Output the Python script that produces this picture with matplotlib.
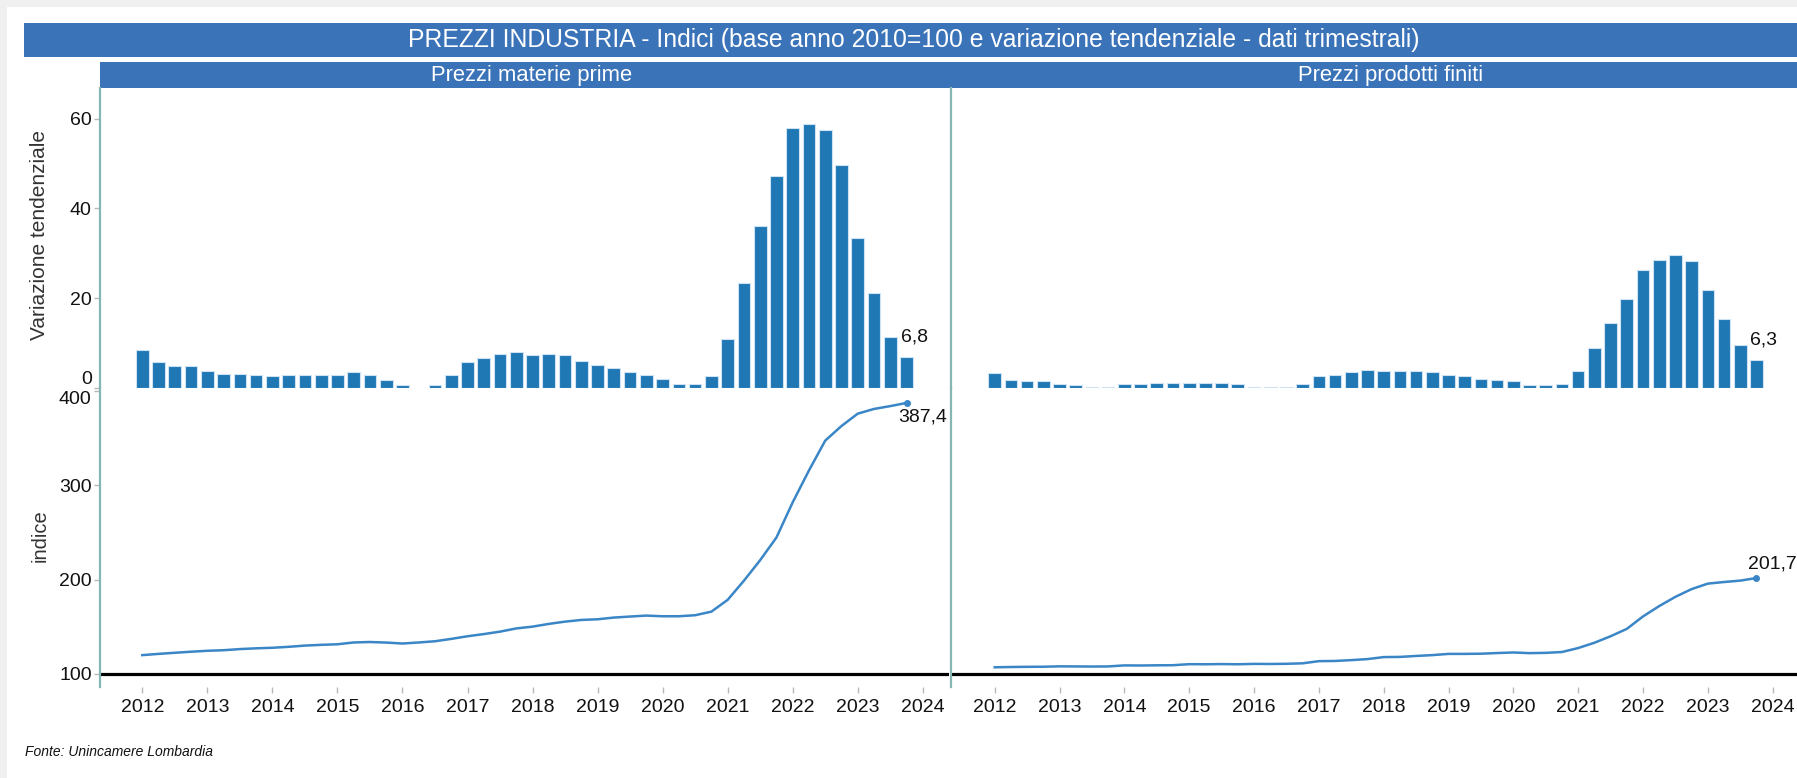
import matplotlib
matplotlib.use('Agg')
import matplotlib.pyplot as plt
from matplotlib.patches import Rectangle

# Se fija la fuente (métrica tipo Arial).
plt.rcParams['font.family'] = ['Liberation Sans', 'DejaVu Sans']

# Tamaño de la imagen en píxeles.
W, H = 1797, 778

# Periodos trimestrales 2012 T1 - 2023 T4.
anni = list(range(2012, 2024))
trimestri = [a + q / 4 for a in anni for q in range(4)]

# Variación tendencial (%) - precios materias primas.
var_materie = [8.4, 5.8, 4.9, 4.9, 3.8, 3.2, 3.2, 2.9, 2.6, 2.9, 2.9, 2.9,
               2.9, 3.6, 2.9, 1.8, 0.6, 0.0, 0.6, 2.9, 5.8, 6.7, 7.6, 8.1,
               7.3, 7.6, 7.3, 6.1, 5.2, 4.4, 3.5, 2.9, 2.0, 0.9, 0.9, 2.6,
               10.8, 23.4, 36.0, 47.3, 57.9, 58.8, 57.4, 49.6, 33.5, 21.2, 11.3, 6.8]

# Índice (2010=100) - precios materias primas.
indice_materie = [120.0, 121.3, 122.5, 123.6, 124.6, 125.2, 126.4, 127.2, 127.8, 128.8, 130.1, 130.9,
                  131.5, 133.4, 133.9, 133.3, 132.3, 133.4, 134.7, 137.2, 140.0, 142.3, 144.9, 148.3,
                  150.2, 153.1, 155.5, 157.3, 158.0, 159.8, 160.9, 161.9, 161.2, 161.2, 162.3, 166.1,
                  178.6, 198.9, 220.7, 244.7, 282.0, 315.8, 347.4, 362.9, 376.0, 381.0, 384.0, 387.4]

# Variación tendencial (%) - precios productos terminados.
var_prodotti = [3.3, 1.8, 1.5, 1.5, 0.9, 0.6, 0.3, 0.3, 0.9, 0.9, 1.2, 1.2,
                1.2, 1.2, 1.2, 0.9, 0.3, 0.3, 0.3, 0.9, 2.6, 2.9, 3.5, 4.0,
                3.8, 3.8, 3.8, 3.6, 2.9, 2.7, 2.0, 1.8, 1.5, 0.7, 0.7, 0.9,
                3.8, 9.0, 14.4, 19.9, 26.2, 28.5, 29.7, 28.3, 21.9, 15.3, 9.6, 6.3]

# Índice (2010=100) - precios productos terminados.
indice_prodotti = [107.1, 107.4, 107.6, 107.7, 108.1, 108.0, 107.9, 108.0, 109.1, 109.0, 109.2, 109.3,
                   110.4, 110.3, 110.5, 110.3, 110.7, 110.6, 110.8, 111.3, 113.6, 113.8, 114.7, 115.8,
                   117.9, 118.1, 119.1, 120.0, 121.3, 121.3, 121.5, 122.2, 122.8, 122.1, 122.4, 123.3,
                   127.5, 133.1, 140.0, 147.8, 161.0, 172.0, 181.8, 190.0, 195.8, 197.5, 199.0, 201.7]

etichette_anni = [str(a) for a in range(2012, 2025)]

BLU_TESTATA = '#3b73b9'
BLU_BARRE = '#1f77b4'
BLU_LINEA = '#3a86c6'
VERDE_ASSE = '#86b5b3'
GRIGIO_TICK = '#b8b8b8'
TESTO = '#111111'


def caja(x0, y0, x1, y1):
    """Convierte un rectángulo en píxeles (origen arriba-izquierda) a coordenadas de figura."""
    return [x0 / W, 1 - y1 / H, (x1 - x0) / W, (y1 - y0) / H]


def fmt(v):
    return f"{v:.1f}".replace('.', ',')


fig = plt.figure(figsize=(W / 100, H / 100), dpi=100)
fig.patch.set_facecolor('#f0f0f0')

# Fondo blanco, barra del título y cabeceras de los paneles (detrás de los ejes).
fig.add_artist(Rectangle((7 / W, 0), 1, 1 - 7 / H, transform=fig.transFigure,
                         facecolor='white', edgecolor='none', zorder=-10))
fig.add_artist(Rectangle((24 / W, 1 - 57 / H), 1, 34 / H, transform=fig.transFigure,
                         facecolor=BLU_TESTATA, edgecolor='none', zorder=-5))
fig.text(914 / W, 1 - 40 / H,
         'PREZZI INDUSTRIA - Indici (base anno 2010=100 e variazione tendenziale - dati trimestrali)',
         color='white', fontsize=17.8, ha='center', va='center')

pannelli = [
    # x0, x1, px del 2012, px por año, título, centro título, variación, índice, etiquetas
    (100, 949, 142.3, 65.04, 'Prezzi materie prime', 532, var_materie, indice_materie, True),
    (951, 1797, 994.7, 64.83, 'Prezzi prodotti finiti', 1391, var_prodotti, indice_prodotti, False),
]

for x0, x1, px2012, px_anno, titolo, cx_titolo, var, indice, asse_y in pannelli:
    fig.add_artist(Rectangle((x0 / W, 1 - 88 / H), (x1 - x0 + 40) / W, 26 / H,
                             transform=fig.transFigure, facecolor=BLU_TESTATA,
                             edgecolor='none', zorder=-5))
    fig.text(cx_titolo / W, 1 - 75 / H, titolo, color='white', fontsize=15.8,
             ha='center', va='center')

    xmin = 2012 - (px2012 - x0) / px_anno
    xmax = 2012 + (x1 - px2012) / px_anno

    # Gráfico de barras (variación tendencial).
    ax_b = fig.add_axes(caja(x0, 88, x1, 388))
    ax_b.bar(trimestri, var, width=0.195, color=BLU_BARRE, edgecolor='#cfe2f3', linewidth=0.8)
    ax_b.set_xlim(xmin, xmax)
    ax_b.set_ylim(0, 66.8)
    ax_b.set_xticks([])
    ax_b.annotate(fmt(var[-1]), xy=(trimestri[-1], var[-1]), xytext=(-6, 20),
                  textcoords='offset pixels', ha='left', va='center', fontsize=14, color=TESTO)

    # Gráfico de línea (índice).
    ax_l = fig.add_axes(caja(x0, 388, x1, 687))
    ax_l.axhline(100, color='black', linewidth=2.3, zorder=1)
    ax_l.plot(trimestri, indice, color=BLU_LINEA, linewidth=1.8, zorder=3)
    ax_l.plot(trimestri[-1], indice[-1], 'o', color=BLU_LINEA, markersize=4, zorder=3)
    ax_l.set_xlim(xmin, xmax)
    ax_l.set_ylim(86.2, 403.2)
    ax_l.set_xticks(range(2012, 2025))
    ax_l.set_xticklabels(etichette_anni)
    offset_y = -14 if asse_y else 14
    ax_l.annotate(fmt(indice[-1]), xy=(trimestri[-1], indice[-1]), xytext=(-8, offset_y),
                  textcoords='offset pixels', ha='left', va='center', fontsize=14, color=TESTO)

    for ax in (ax_b, ax_l):
        ax.patch.set_alpha(0)
        for lato in ('top', 'right', 'bottom'):
            ax.spines[lato].set_visible(False)
        ax.spines['left'].set_color(VERDE_ASSE)
        ax.spines['left'].set_linewidth(1.6)
        ax.tick_params(axis='both', colors=GRIGIO_TICK, labelcolor=TESTO, labelsize=14,
                       length=4, width=1)
        ax.tick_params(axis='x', pad=5)
        ax.tick_params(axis='y', pad=2)

    if asse_y:
        ax_b.set_yticks([0, 20, 40, 60])
        ax_l.set_yticks([100, 200, 300, 400])
        ax_b.get_yticklabels()[0].set_va('bottom')
        ax_l.get_yticklabels()[-1].set_va('top')
    else:
        ax_b.set_yticks([])
        ax_l.set_yticks([])

# Títulos de los ejes verticales.
fig.text(40 / W, 1 - 235 / H, 'Variazione tendenziale', rotation=90, fontsize=15,
         color='#333333', ha='center', va='center')
fig.text(40 / W, 1 - 536 / H, 'indice', rotation=90, fontsize=14.5,
         color='#333333', ha='center', va='center')

# Fuente de los datos.
fig.text(25 / W, 1 - 752 / H, 'Fonte: Unincamere Lombardia', style='italic',
         fontsize=10, color=TESTO, va='center')

fig.savefig('out.png', dpi=100, facecolor=fig.get_facecolor())
plt.close(fig)
